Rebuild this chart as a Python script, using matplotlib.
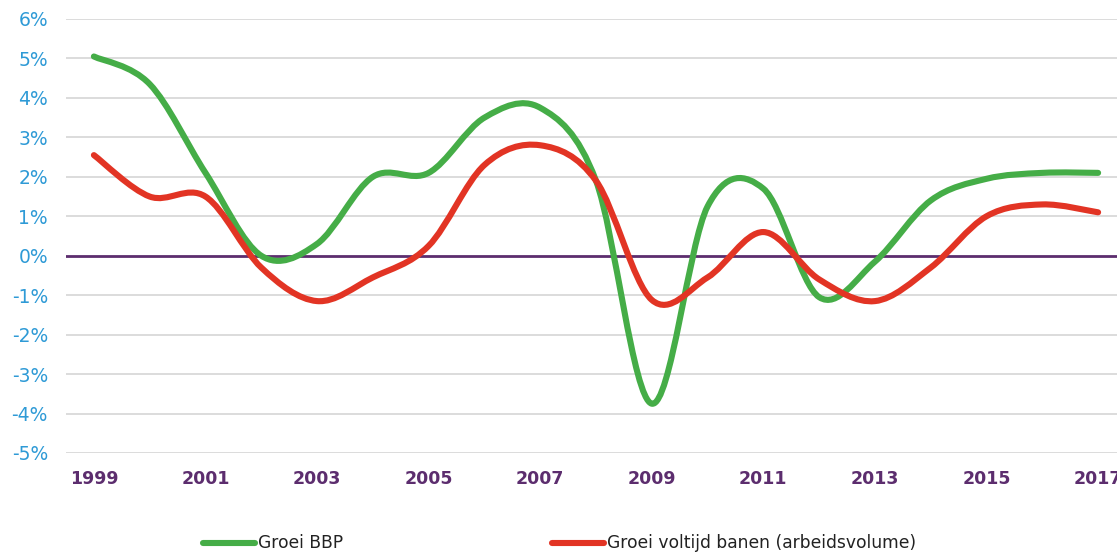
import matplotlib
matplotlib.use("Agg")
import matplotlib.pyplot as plt
from matplotlib.path import Path
from matplotlib.patches import PathPatch
from matplotlib.lines import Line2D
import numpy as np

years = list(range(1999, 2018))
tick_years = [1999, 2001, 2003, 2005, 2007, 2009, 2011, 2013, 2015, 2017]
groei_bbp = [5.05, 4.35, 2.1, 0.0, 0.3, 2.0, 2.1, 3.5, 3.75, 1.9, -3.75,
             1.25, 1.7, -1.05, -0.15, 1.4, 1.95, 2.1, 2.1]
groei_banen = [2.55, 1.5, 1.5, -0.3, -1.15, -0.55, 0.25, 2.3, 2.8, 1.9, -1.12,
               -0.55, 0.6, -0.6, -1.15, -0.3, 1.0, 1.3, 1.1]
y_ticks = list(range(-5, 7))
labels = ["Groei BBP", "Groei voltijd banen (arbeidsvolume)"]
colors = ["#45ad47", "#e23424"]

fig = plt.figure(figsize=(11.17, 5.52), dpi=100)
ax = fig.add_axes([66 / 1117, 1 - 453 / 552, (1126 - 66) / 1117, (453 - 19) / 552])


def smooth_path(xs, ys):
    # Catmull-Rom style Bezier through data points (Excel-like smoothed line)
    pts = np.column_stack([xs, ys]).astype(float)
    n = len(pts)
    verts = [pts[0]]
    codes = [Path.MOVETO]
    for i in range(n - 1):
        p0 = pts[i - 1] if i > 0 else pts[i]
        p1 = pts[i]
        p2 = pts[i + 1]
        p3 = pts[i + 2] if i + 2 < n else pts[i + 1]
        c1 = p1 + (p2 - p0) / 6.0
        c2 = p2 - (p3 - p1) / 6.0
        verts += [c1, c2, p2]
        codes += [Path.CURVE4] * 3
    return Path(verts, codes)


for tk in y_ticks:
    if tk != 0:
        ax.axhline(tk, color="#d9d9d9", lw=1.3, zorder=1)
ax.axhline(0, color="#5c2d6e", lw=2.0, zorder=2)

for vals, c in zip([groei_bbp, groei_banen], colors):
    patch = PathPatch(smooth_path(years, vals), facecolor="none", edgecolor=c,
                      lw=4.4, capstyle="round", joinstyle="round", zorder=3)
    ax.add_patch(patch)

ax.set_xlim(1998.5, 2017.5)
ax.set_ylim(-5, 6)
ax.set_yticks(y_ticks)
ax.set_yticklabels([f"{t}%" for t in y_ticks], color="#2e9ad6", fontsize=13.5,
                   family="DejaVu Sans")
ax.set_xticks(tick_years)
ax.set_xticklabels([str(t) for t in tick_years], color="#5c2d6e", fontsize=12.5,
                   fontweight="bold", family="DejaVu Sans")
ax.tick_params(axis="both", length=0)
ax.tick_params(axis="y", pad=13)
ax.tick_params(axis="x", pad=12)
for s in ax.spines.values():
    s.set_visible(False)

# legend entries placed individually
for c, lab, x0 in zip(colors, labels, [203 / 1117, 552 / 1117]):
    fig.add_artist(Line2D([x0, x0 + 52 / 1117], [1 - 543 / 552] * 2, color=c,
                          lw=4.4, solid_capstyle="round"))
    fig.text(x0 + 55 / 1117, 1 - 543 / 552, lab, fontsize=12.3, va="center", ha="left",
             color="#222222", family="DejaVu Sans")

fig.savefig("out.png", dpi=100)
